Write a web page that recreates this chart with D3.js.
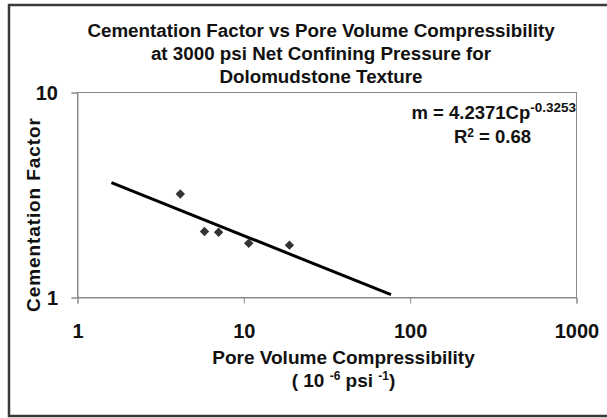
<!DOCTYPE html>
<html>
<head>
<meta charset="utf-8">
<script src="https://cdn.jsdelivr.net/npm/d3@7"></script>
<style>
  body { margin: 0; background: #fff; }
  svg text { font-family: "Liberation Sans", Arial, sans-serif; font-weight: bold; fill: #111; }
</style>
</head>
<body>
<svg id="chart" width="607" height="418"></svg>
<script>
// data
const poreComp = [4.15, 5.8, 7.05, 10.7, 18.8];      // 10^-6 psi^-1
const cementation = [3.2, 2.1, 2.08, 1.84, 1.8];    // m
const xTicks = [1, 10, 100, 1000];
const yTicks = [1, 10];
const titleLines = ["Cementation Factor vs Pore Volume Compressibility",
                    "at 3000 psi Net Confining Pressure for",
                    "Dolomudstone Texture"];
// power trend line m = a * Cp^b, drawn between these Cp values
const trendCoef = 4.2371;
const trendExp = -0.3253;
const trendRange = [1.6, 76.7];

const svg = d3.select("#chart");
const margin = {left: 77.5, right: 576.5, top: 92.5, bottom: 297.5};

const x = d3.scaleLog().domain([1, 1000]).range([margin.left, margin.right]);
const y = d3.scaleLog().domain([1, 10]).range([margin.bottom, margin.top]);

// outer frame (right edge runs off the picture)
svg.append("path")
    .attr("d", "M612,5 L9,5 L9,416 L612,416")
    .attr("fill", "none")
    .attr("stroke", "#3a3a3a")
    .attr("stroke-width", 2.5);

// plot box
svg.append("rect")
    .attr("x", margin.left)
    .attr("y", margin.top)
    .attr("width", margin.right - margin.left)
    .attr("height", margin.bottom - margin.top)
    .attr("fill", "none")
    .attr("stroke", "#8a8a8a")
    .attr("stroke-width", 1);

// axes
const xAxis = d3.axisBottom(x).tickValues(xTicks).tickFormat(d3.format("d"))
    .tickSize(6).tickPadding(20);
const yAxis = d3.axisLeft(y).tickValues(yTicks).tickFormat(d3.format("d"))
    .tickSize(6).tickPadding(13.5);

const gx = svg.append("g").attr("transform", `translate(0,${margin.bottom})`).call(xAxis);
const gy = svg.append("g").attr("transform", `translate(${margin.left},0)`).call(yAxis);

[gx, gy].forEach(g => {
  g.select(".domain").attr("stroke", "#8a8a8a");
  g.selectAll(".tick line").attr("stroke", "#8a8a8a");
  g.selectAll(".tick text")
    .attr("font-family", "Liberation Sans, Arial, sans-serif")
    .attr("font-weight", "bold")
    .attr("font-size", 20)
    .attr("fill", "#111");
});
gy.selectAll(".tick text").attr("dy", "0.36em");

// trend line
const trendData = trendRange.map(c => ({cp: c, m: trendCoef * Math.pow(c, trendExp)}));
const line = d3.line().x(d => x(d.cp)).y(d => y(d.m));
svg.append("path")
    .datum(trendData)
    .attr("d", line)
    .attr("fill", "none")
    .attr("stroke", "#000")
    .attr("stroke-width", 3);

// points
const points = poreComp.map((c, i) => ({cp: c, m: cementation[i]}));
svg.append("g").selectAll("path")
  .data(points)
  .join("path")
    .attr("d", d3.symbol(d3.symbolSquare, 44))
    .attr("transform", d => `translate(${x(d.cp)},${y(d.m)}) rotate(45)`)
    .attr("fill", "#333");

// title
svg.append("text")
    .attr("text-anchor", "middle")
    .attr("font-size", 18.8)
  .selectAll("tspan")
  .data(titleLines)
  .join("tspan")
    .attr("x", 321)
    .attr("y", (d, i) => 36.5 + i * 23.3)
    .text(d => d);

// axis titles
svg.append("text")
    .attr("text-anchor", "middle")
    .attr("font-size", 19)
    .attr("x", 343.5)
    .attr("y", 364)
    .text("Pore Volume Compressibility");

const unit = svg.append("text")
    .attr("text-anchor", "middle")
    .attr("font-size", 19)
    .attr("x", 343.5)
    .attr("y", 387);
unit.append("tspan").text("( 10 ");
unit.append("tspan").attr("font-size", 12).attr("dy", -7).text("-6");
unit.append("tspan").attr("dy", 7).text("  psi ");
unit.append("tspan").attr("font-size", 12).attr("dy", -7).text("-1");
unit.append("tspan").attr("dy", 7).text(")");

svg.append("text")
    .attr("text-anchor", "middle")
    .attr("font-size", 19)
    .attr("textLength", 194)
    .attr("lengthAdjust", "spacing")
    .attr("transform", "translate(40,215) rotate(-90)")
    .text("Cementation Factor");

// equation of the trend line
const eq = svg.append("text")
    .attr("text-anchor", "end")
    .attr("font-size", 18.5)
    .attr("x", 576)
    .attr("y", 119);
eq.append("tspan").text(`m = ${trendCoef}Cp`);
eq.append("tspan").attr("font-size", 13.5).attr("dy", -7.5).text(trendExp);

const r2 = svg.append("text")
    .attr("text-anchor", "middle")
    .attr("font-size", 18.5)
    .attr("x", 492.5)
    .attr("y", 143);
r2.append("tspan").text("R");
r2.append("tspan").attr("font-size", 12).attr("dy", -6.5).text("2");
r2.append("tspan").attr("dy", 6.5).text(" = 0.68");
</script>
</body>
</html>
